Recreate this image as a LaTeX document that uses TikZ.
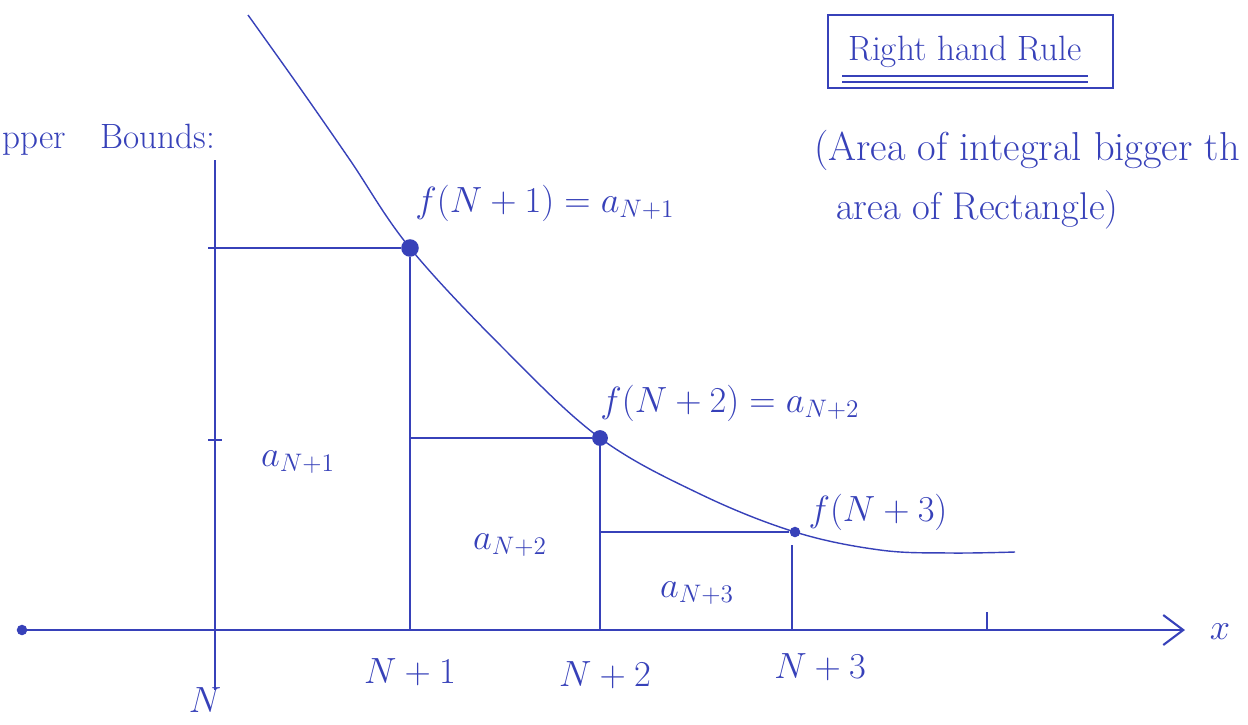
\documentclass[tikz,border=0pt]{standalone}
\usepackage{amsmath,amssymb}
\usetikzlibrary{arrows.meta,calc}
\definecolor{encre}{RGB}{55,65,185}

\begin{document}
\begin{tikzpicture}[
  x=0.02cm,y=-0.02cm,
  >={Straight Barb[length=4mm,width=6mm]},
  trait/.style={encre,thick},
  axe/.style={encre,very thick,->},
  lbl/.style={encre,font=\fontsize{20}{24}\selectfont},
  pt/.style={circle,fill=encre,inner sep=0pt,minimum size=#1},
]
  \useasboundingbox (0,0) rectangle (1248,724);

  % Coordinates
  \coordinate (O)   at (22,630);
  \coordinate (X)   at (1185,630);
  \coordinate (Nb)  at (215,690);
  \coordinate (Nt)  at (215,160);
  \coordinate (N1)  at (410,630);
  \coordinate (N2)  at (600,630);
  \coordinate (N3)  at (792,630);
  \coordinate (N4)  at (987,630);
  \coordinate (N4t) at (987,612);
  \coordinate (h1)  at (208,248);
  \coordinate (h2)  at (410,438);
  \coordinate (h3)  at (600,532);
  \coordinate (t2a) at (208,440);
  \coordinate (t2b) at (222,440);
  \coordinate (v3)  at (792,545);

  % Points on the curve
  \node[pt=10pt] (P1) at (410,248) {};
  \node[pt=9pt]  (P2) at (600,438) {};
  \node[pt=6pt]  (P3) at (795,532) {};

  % Axes
  \draw[axe] (O) -- (X);
  \fill[encre] (O) circle (3pt);
  \draw[trait] (Nb) -- (Nt);
  \draw[trait] (t2a) -- (t2b);
  \draw[trait] (N4) -- (N4t);

  % Rectangles (right hand rule)
  \draw[trait] (h1) -- (P1) -- (N1);
  \draw[trait] (h2) -- (P2) -- (N2);
  \draw[trait] (h3) -- (P3);
  \draw[trait] (N3) -- (v3);

  % Curve f
  \draw[trait] plot[smooth,tension=0.6] coordinates
    {(248,15) (300,88) (350,160) (410,248) (505,350) (600,438)
     (700,494) (795,532) (880,550) (950,553) (1015,552)};

  % Labels
  \node[lbl] (f1) at (545,203) {$f(N+1) = a_{N+1}$};
  \node[lbl] (f2) at (730,403) {$f(N+2) = a_{N+2}$};
  \node[lbl] (f3) at (878,512) {$f(N+3)$};
  \node[lbl] (a1) at (298,462) {$a_{N+1}$};
  \node[lbl] (a2) at (510,545) {$a_{N+2}$};
  \node[lbl] (a3) at (697,593) {$a_{N+3}$};
  \node[lbl] (lN)  at (205,700) {$N$};
  \node[lbl] (lN1) at (410,672) {$N+1$};
  \node[lbl] (lN2) at (605,675) {$N+2$};
  \node[lbl] (lN3) at (820,667) {$N+3$};
  \node[lbl] (lx)  at (1220,632) {$x$};
  \node[lbl,anchor=west] (ub) at (-4,140) {pper\quad Bounds:};

  % Title box
  \draw[encre,thick] (828,15) rectangle (1113,88);
  \node[lbl] (title) at (965,52) {Right hand Rule};
  \draw[encre,thick] ($(title.south west)+(0,2)$) -- ($(title.south east)+(0,2)$);
  \draw[encre,thick] ($(title.south west)+(0,8)$) -- ($(title.south east)+(0,8)$);

  % Remark
  \node[lbl,font=\fontsize{23}{27}\selectfont,anchor=west] (c1) at (808,150) {(Area of integral bigger th};
  \node[lbl,font=\fontsize{22}{26}\selectfont,anchor=west] (c2) at (830,210) {area of Rectangle)};
\end{tikzpicture}
\end{document}
